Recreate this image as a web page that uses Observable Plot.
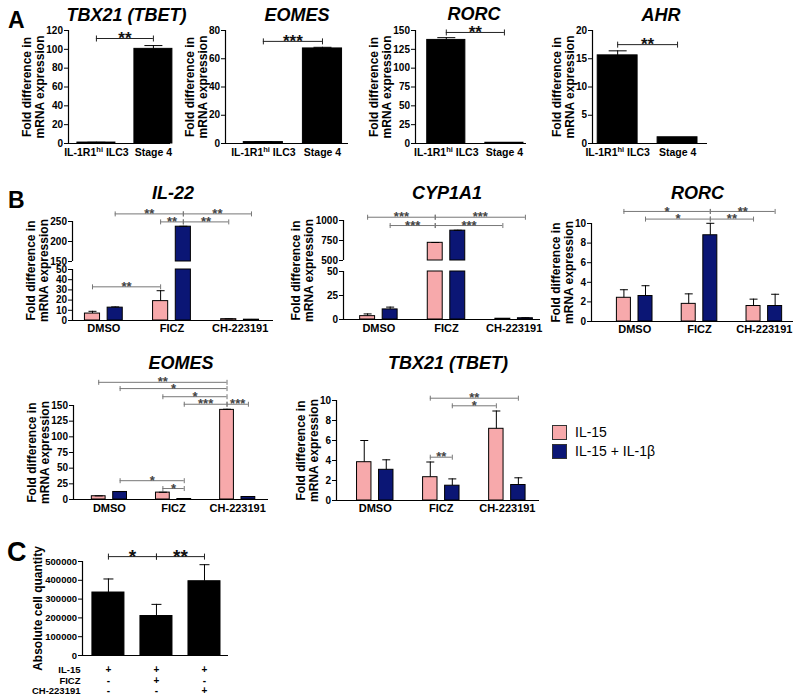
<!DOCTYPE html>
<html><head><meta charset="utf-8">
<script src="https://cdn.jsdelivr.net/npm/d3@7"></script>
<script src="https://cdn.jsdelivr.net/npm/@observablehq/plot@0.6"></script>
<style>
body{margin:0;background:#fff;}
#fig{position:relative;width:800px;height:696px;overflow:hidden;background:#fff;font-family:"Liberation Sans",Arial,Helvetica,sans-serif;}
#fig svg{position:absolute;overflow:visible;max-width:none;}
.lab{position:absolute;font-weight:bold;line-height:1;}
.leg{position:absolute;font-size:14px;line-height:16px;display:flex;align-items:center;white-space:nowrap;}
.sw{display:inline-block;width:13px;height:13px;border:1px solid #333;margin-right:8px;}
</style></head><body><div id="fig"></div><script>
// ---------- data ----------
const groups = ["DMSO", "FICZ", "CH-223191"];
const series = ["IL-15", "IL-15 + IL-1β"];
const aCats = ["IL-1R1hi ILC3", "Stage 4"];

// Panel A (mean, SD)
const aTbx21Mean = [1.0, 100.5], aTbx21Sd = [0.3, 3.5];
const aEomesMean = [1.0, 67.3], aEomesSd = [0.3, 0.8];
const aRorcMean = [137.5, 1.0], aRorcSd = [3.0, 0.2];
const aAhrMean = [15.6, 1.1], aAhrSd = [0.8, 0.0];

// Panel B (IL-15 / IL-15 + IL-1β, per group)
const il22Il15 = [6.8, 19.0, 1.3], il22Il15Sd = [2.2, 10.2, 0.3];
const il22Il1b = [12.6, 237, 0.8], il22Il1bSd = [0.7, 1.0, 0.2];
const cypIl15 = [3.5, 721, 0.8], cypIl15Sd = [2.3, 4, 0.2];
const cypIl1b = [10.5, 873, 1.3], cypIl1bSd = [2.4, 5, 0.5];
const rorcIl15 = [2.42, 1.80, 1.58], rorcIl15Sd = [0.82, 1.02, 0.70];
const rorcIl1b = [2.60, 8.80, 1.58], rorcIl1bSd = [1.05, 1.22, 1.20];
const eomesIl15 = [5.2, 11.0, 143], eomesIl15Sd = [0.6, 0.5, 1.0];
const eomesIl1b = [12.0, 0.8, 4.0], eomesIl1bSd = [0.6, 0.2, 0.6];
const tbxIl15 = [3.83, 2.33, 7.17], tbxIl15Sd = [2.17, 1.52, 1.78];
const tbxIl1b = [3.07, 1.48, 1.55], tbxIl1bSd = [1.0, 0.68, 0.72];

// Panel C
const cMean = [335000, 210000, 395000], cSd = [72000, 62000, 88000];
const cConditions = ["IL-15", "FICZ", "CH-223191"];
const cIl15 = ["+", "+", "+"], cFicz = ["-", "+", "-"], cCh = ["-", "-", "+"];

// significance brackets (a, b = bar; y = bracket level in axis units)
const aTbx21Sig = [{a: 0, b: 1, p: "**", y: 111.5}];
const aEomesSig = [{a: 0, b: 1, p: "***", y: 72.3}];
const aRorcSig = [{a: 0, b: 1, p: "**", y: 147.4}];
const aAhrSig = [{a: 0, b: 1, p: "**", y: 17.5}];
const il22Sig = [
  {a: [0, 1], b: [1, 1], p: "**", y: 269}, {a: [1, 1], b: [2, 1], p: "**", y: 269},
  {a: [1, 0], b: [1, 1], p: "**", y: 249}, {a: [1, 1], b: [2, 0], p: "**", y: 249},
  {a: [0, 0], b: [1, 0], p: "**", y: 33}];
const cypSig = [
  {a: [0, 0], b: [1, 0], p: "***", y: 1041}, {a: [1, 0], b: [2, 1], p: "***", y: 1041},
  {a: [0, 1], b: [1, 0], p: "***", y: 937}, {a: [1, 0], b: [2, 0], p: "***", y: 937}];
const rorcSig = [
  {a: [0, 0], b: [1, 1], p: "*", y: 11.23}, {a: [1, 1], b: [2, 1], p: "**", y: 11.23},
  {a: [0, 1], b: [1, 1], p: "*", y: 10.45}, {a: [1, 1], b: [2, 0], p: "**", y: 10.45}];
const eomesSig = [
  {a: [0, 0], b: [2, 0], p: "**", y: 187}, {a: [0, 1], b: [2, 0], p: "*", y: 177},
  {a: [1, 0], b: [2, 0], p: "*", y: 164}, {a: [1, 1], b: [2, 0], p: "***", y: 152},
  {a: [2, 0], b: [2, 1], p: "***", y: 152}, {a: [0, 1], b: [1, 1], p: "*", y: 30},
  {a: [1, 0], b: [1, 1], p: "*", y: 17.5}];
const tbxSig = [
  {a: [1, 0], b: [2, 1], p: "**", y: 10.23}, {a: [1, 1], b: [2, 0], p: "*", y: 9.47},
  {a: [1, 0], b: [1, 1], p: "**", y: 4.33}];
const cSig = [{a: 0, b: 1, p: "*", y: 526000}, {a: 1, b: 2, p: "**", y: 526000}];

// ---------- drawing ----------
const FONT = '"Liberation Sans", Arial, Helvetica, sans-serif';
const pink = "#f7a9ab", navy = "#0b1675";
const fig = document.getElementById("fig");
const NS = "http://www.w3.org/2000/svg";
const vbar = {draw(c, s) { const r = Math.sqrt(s / Math.PI); c.moveTo(0, -r); c.lineTo(0, r); }};
const hbar = {draw(c, s) { const r = Math.sqrt(s / Math.PI); c.moveTo(-r, 0); c.lineTo(r, 0); }};
const yTitle = "Fold difference in\nmRNA expression";
const range = (a, b, s) => d3.range(a, b + s / 2, s);

function aBars(mean, sd) { return aCats.map((c, i) => ({slot: i, v: mean[i], sd: sd[i], s: "all"})); }
function bBars(v15, sd15, v1b, sd1b) {
  const vals = [v15, v1b], sds = [sd15, sd1b];
  return groups.flatMap((g, gi) => series.map((s, si) => ({slot: 3 * gi + si, v: vals[si][gi], sd: sds[si][gi], s})));
}
const aSig = list => list.map(d => ({x1: d.a + 0.5, x2: d.b + 0.5, y: d.y, p: d.p}));
const bSig = list => list.map(d => ({x1: 3 * d.a[0] + d.a[1] + 0.5, x2: 3 * d.b[0] + d.b[1] + 0.5, y: d.y, p: d.p}));

function panel(o) {
  const ml = 90, mr = 12, mt = o.mt ?? 50, mb = o.mb ?? 30;
  const [lo, hi] = o.domain;
  const W = o.rx - o.ax + ml + mr, H = o.by - o.ty + mt + mb;
  const bars = o.bars.filter(b => b.v > lo).map(b => ({...b, y1: lo, y2: Math.min(b.v, hi)}));
  const errs = o.bars.filter(b => b.sd > 0 && b.v >= lo && b.v <= hi).map(b => ({...b, top: b.v + b.sd}));
  const sig = (o.sig || []).filter(d => o.sigKeep ? o.sigKeep(d.y) : true);
  const ends = sig.flatMap(d => [{x: d.x1, y: d.y}, {x: d.x2, y: d.y}]);
  const marks = [
    Plot.rect(bars, {x1: "slot", x2: d => d.slot + 1, y1: "y1", y2: "y2", fill: "s", stroke: "black", strokeWidth: 1, insetLeft: o.inset, insetRight: o.inset}),
    Plot.ruleX(errs, {x: d => d.slot + 0.5, y1: "v", y2: "top", stroke: "black", strokeWidth: 1}),
    Plot.dot(errs, {x: d => d.slot + 0.5, y: "top", symbol: hbar, r: o.capR, stroke: "black", strokeWidth: 1}),
    Plot.ruleX([o.xDomain[0]], {stroke: "black", strokeWidth: 1.2}),
    Plot.axisY(o.ticks, {tickSize: 4, tickPadding: 1.5, tickFormat: "d", fontSize: o.tickFont ?? 10}),
    Plot.ruleY(sig, {y: "y", x1: "x1", x2: "x2", stroke: o.sigColor, strokeWidth: 1}),
    Plot.dot(ends, {x: "x", y: "y", symbol: vbar, r: o.sigCap, stroke: o.sigColor, strokeWidth: 1}),
    Plot.text(sig, {x: d => (d.x1 + d.x2) / 2, y: "y", text: "p", lineAnchor: "middle", fontSize: o.starSize, fontWeight: "bold", fill: o.starColor})
  ];
  if (o.baseline) marks.push(Plot.ruleY([lo], {stroke: "black", strokeWidth: 1.2}));
  if (o.xTicks) marks.push(Plot.axisX(o.xTicks, {tickFormat: d => o.xLabels[o.xTicks.indexOf(d)], tickSize: 0, tickPadding: o.xPad ?? 5, fontSize: o.xFont ?? 11}));
  if (o.title) marks.push(Plot.text([o.title], {frameAnchor: "top", dx: o.titleDx || 0, dy: o.titleY - o.ty, lineAnchor: "middle", fontSize: 18, fontWeight: "bold", fontStyle: "italic"}));
  if (o.ytitle) {
    const mid = (o.ty + o.by) / 2;
    marks.push(Plot.text([o.ytitle], {frameAnchor: "left", dx: o.ytDx, dy: (o.ytY ?? mid) - mid, rotate: -90, lineAnchor: "middle", textAnchor: "middle", fontSize: o.ytFont ?? 12, lineHeight: 1.02, fontWeight: "bold"}));
  }
  if (o.table) {
    o.table.forEach((row, r) => {
      marks.push(Plot.text(row.signs.map((t, i) => ({x: i + 0.5, t})), {x: "x", text: "t", frameAnchor: "bottom", dy: o.rowDy[r], lineAnchor: "middle", fontSize: 10, fontWeight: "bold"}));
      marks.push(Plot.text([row.label], {frameAnchor: "bottom-left", dx: -2, dy: o.rowDy[r], textAnchor: "end", lineAnchor: "middle", fontSize: 9.5, fontWeight: "bold"}));
    });
  }
  const svg = Plot.plot({
    width: W, height: H, marginLeft: ml, marginRight: mr, marginTop: mt, marginBottom: mb,
    x: {domain: o.xDomain, axis: null}, y: {domain: o.domain, axis: null},
    color: {domain: [...series, "all"], range: [pink, navy, "black"]},
    style: {fontFamily: FONT, fontSize: "11px", fontWeight: "bold", color: "black", background: "transparent", overflow: "visible"},
    marks
  });
  svg.querySelectorAll("text").forEach(t => {
    if (t.textContent === "IL-1R1hi ILC3") {
      t.textContent = "";
      const a = document.createElementNS(NS, "tspan"); a.textContent = "IL-1R1";
      const b = document.createElementNS(NS, "tspan"); b.textContent = "hi"; b.setAttribute("dy", "-4"); b.setAttribute("font-size", "7.5");
      const c = document.createElementNS(NS, "tspan"); c.textContent = " ILC3"; c.setAttribute("dy", "4");
      t.append(a, b, c);
    }
  });
  svg.style.left = (o.ax - ml) + "px";
  svg.style.top = (o.ty - mt) + "px";
  fig.appendChild(svg);
}

// Panel A
const aCommon = {ty: 30, by: 143, titleY: 15, inset: 10, capR: 9, xTicks: [0.5, 1.5], xLabels: aCats, baseline: true, xFont: 10.5,
  sigColor: "#222", starColor: "#111", starSize: 17, sigCap: 3, ytitle: yTitle};
panel({...aCommon, ax: 68, rx: 170, xDomain: [0.01, 1.80], domain: [0, 120], ticks: range(0, 120, 20), inset: 9.5,
  bars: aBars(aTbx21Mean, aTbx21Sd), sig: aSig(aTbx21Sig), title: "TBX21 (TBET)", titleDx: 7, ytDx: -35});
panel({...aCommon, ax: 225, rx: 348, xDomain: [-0.14, 1.94], domain: [0, 80], ticks: range(0, 80, 20),
  bars: aBars(aEomesMean, aEomesSd), sig: aSig(aEomesSig), title: "EOMES", titleDx: 10, ytDx: -29});
panel({...aCommon, ax: 415, rx: 526, xDomain: [-0.03, 1.88], domain: [0, 150], ticks: range(0, 150, 25),
  bars: aBars(aRorcMean, aRorcSd), sig: aSig(aRorcSig), title: "RORC", titleY: 14, titleDx: 3, ytDx: -35});
panel({...aCommon, ax: 592, rx: 707, xDomain: [0.08, 2.0], domain: [0, 20], ticks: range(0, 20, 5),
  bars: aBars(aAhrMean, aAhrSd), sig: aSig(aAhrSig), title: "AHR", titleDx: 11, ytDx: -29});

// Panel B
const bCommon = {inset: 3.8, capR: 4, sigColor: "#777", starColor: "#444", starSize: 13, sigCap: 2.5, xLabels: groups};
// IL-22 (broken axis)
const il22Bars = bBars(il22Il15, il22Il15Sd, il22Il1b, il22Il1bSd);
panel({...bCommon, ax: 72, rx: 273, xDomain: [-0.38, 8.47], ty: 221, by: 261, mb: 4, domain: [150, 250], ticks: [150, 200, 250],
  bars: il22Bars, sig: bSig(il22Sig), sigKeep: y => y >= 150, title: "IL-22", titleY: 193, titleDx: 0});
panel({...bCommon, ax: 72, rx: 273, xDomain: [-0.38, 8.47], ty: 269, by: 320, mt: 4, domain: [0, 50], ticks: range(0, 50, 10),
  bars: il22Bars, sig: bSig(il22Sig), sigKeep: y => y <= 50, baseline: true, xTicks: [1, 4, 7], xPad: 4,
  ytitle: yTitle, ytDx: -35, ytY: 270});
// CYP1A1 (broken axis)
const cypBars = bBars(cypIl15, cypIl15Sd, cypIl1b, cypIl1bSd);
panel({...bCommon, ax: 343, rx: 540, xDomain: [-0.57, 8.17], ty: 220, by: 260, mb: 4, domain: [500, 1000], ticks: [500, 750, 1000],
  bars: cypBars, sig: bSig(cypSig), sigKeep: y => y >= 500, title: "CYP1A1", titleY: 193, titleDx: 5});
panel({...bCommon, ax: 343, rx: 540, xDomain: [-0.57, 8.17], ty: 271, by: 319, mt: 4, domain: [0, 50], ticks: [0, 25, 50],
  bars: cypBars, sig: bSig(cypSig), sigKeep: y => y <= 50, baseline: true, xTicks: [1, 4, 7], xPad: 5,
  ytitle: yTitle, ytDx: -41, ytY: 270});
// RORC
panel({...bCommon, ax: 591, rx: 793, xDomain: [-1.0, 8.35], ty: 223, by: 321, domain: [0, 10], ticks: range(0, 10, 2),
  bars: bBars(rorcIl15, rorcIl15Sd, rorcIl1b, rorcIl1bSd), sig: bSig(rorcSig), baseline: true, xTicks: [1, 4, 7], xPad: 4,
  title: "RORC", titleY: 193, titleDx: 5, ytitle: yTitle, ytDx: -29});
// EOMES
panel({...bCommon, ax: 73, rx: 268, xDomain: [-0.68, 8.44], ty: 405, by: 499, mt: 60, domain: [0, 150], ticks: range(0, 150, 25),
  bars: bBars(eomesIl15, eomesIl15Sd, eomesIl1b, eomesIl1bSd), sig: bSig(eomesSig), baseline: true, xTicks: [1, 4, 7], xPad: 5,
  title: "EOMES", titleY: 363, titleDx: 10, ytitle: yTitle, ytDx: -35});
// TBX21
panel({...bCommon, ax: 336, rx: 539, xDomain: [-0.76, 8.46], ty: 400, by: 500, mt: 60, domain: [0, 10], ticks: range(0, 10, 2),
  bars: bBars(tbxIl15, tbxIl15Sd, tbxIl1b, tbxIl1bSd), sig: bSig(tbxSig), baseline: true, xTicks: [1, 4, 7], xPad: 4,
  title: "TBX21 (TBET)", titleY: 363, titleDx: 10, ytitle: yTitle, ytDx: -29});

// Panel C
panel({ax: 82, rx: 228, xDomain: [-0.04, 3.0], ty: 561, by: 655, mt: 30, mb: 45, domain: [0, 500000], ticks: range(0, 500000, 100000),
  tickFont: 9.5, inset: 8, capR: 5, bars: cMean.map((v, i) => ({slot: i, v, sd: cSd[i], s: "all"})),
  sig: aSig(cSig), sigColor: "#222", starColor: "#111", starSize: 19, sigCap: 3, baseline: true,
  ytitle: "Absolute cell quantity", ytDx: -44, ytFont: 12,
  table: [{label: cConditions[0], signs: cIl15}, {label: cConditions[1], signs: cFicz}, {label: cConditions[2], signs: cCh}],
  rowDy: [14, 25, 35]});

// Legend
[series[0], series[1]].forEach((s, i) => {
  const d = document.createElement("div");
  d.className = "leg";
  d.style.left = "552px"; d.style.top = (424 + i * 19) + "px";
  d.innerHTML = `<span class="sw" style="background:${i ? navy : pink}"></span>${s}`;
  fig.appendChild(d);
});

// Panel letters
[["A", 8, 9, 23], ["B", 8, 189, 23], ["C", 7, 539, 27]].forEach(([t, x, y, s]) => {
  const d = document.createElement("div");
  d.className = "lab"; d.textContent = t;
  d.style.left = x + "px"; d.style.top = y + "px"; d.style.fontSize = s + "px";
  fig.appendChild(d);
});
</script></body></html>
